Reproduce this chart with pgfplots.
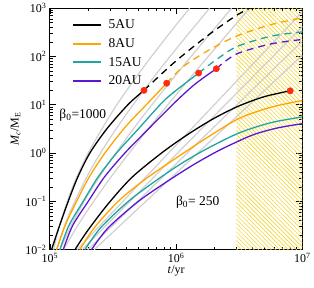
\documentclass[border=0pt]{standalone}
\usepackage{fontspec}
\setmainfont{Liberation Serif}
\usepackage{pgfplots}
\pgfplotsset{compat=1.18}
\usetikzlibrary{patterns,patterns.meta}
\definecolor{cOr}{RGB}{255,165,0}
\definecolor{cTe}{RGB}{30,165,160}
\definecolor{cPu}{RGB}{90,24,208}
\definecolor{cGr}{RGB}{208,208,208}
\definecolor{cHa}{RGB}{242,214,48}
\definecolor{cRed}{RGB}{255,42,16}
\begin{document}
\begin{tikzpicture}
\begin{axis}[
  scale only axis, width=253pt, height=242pt,
  xmode=log, ymode=log, xmin=1e5, xmax=1e7, ymin=1e-2, ymax=1e3,
  xtick={1e5,1e6,1e7},
  xticklabels={10\textsuperscript{5},10\textsuperscript{6},10\textsuperscript{7}},
  ytick={1e-2,1e-1,1,1e1,1e2,1e3},
  yticklabels={10\textsuperscript{−2},10\textsuperscript{−1},10\textsuperscript{0},10\textsuperscript{1},10\textsuperscript{2},10\textsuperscript{3}},
  minor xtick={2e5,3e5,4e5,5e5,6e5,7e5,8e5,9e5,2e6,3e6,4e6,5e6,6e6,7e6,8e6,9e6},
  minor ytick={0.02,0.03,0.04,0.05,0.06,0.07,0.08,0.09,0.2,0.3,0.4,0.5,0.6,0.7,0.8,0.9,2,3,4,5,6,7,8,9,20,30,40,50,60,70,80,90,200,300,400,500,600,700,800,900},
  tick align=inside, tick pos=both, xticklabel pos=lower, yticklabel pos=left,
  major tick length=6pt, minor tick length=3pt,
  axis line style={line width=1pt}, tick style={black, line width=0.8pt},
  tick label style={font=\fontsize{12}{13}\selectfont},
  label style={font=\fontsize{12}{13}\selectfont},
  xlabel={\textit{t}/yr}, ylabel={\textit{M}\textsubscript{\textit{c}}/M\textsubscript{E}},
  xlabel style={yshift=4pt}, ylabel style={yshift=-2pt},
  legend style={draw=none, fill=none, at={(0.083,0.966)}, anchor=north west,
    font=\fontsize{13.5}{15}\selectfont, row sep=4.4pt, inner sep=1pt},
  legend cell align=left,
  legend image code/.code={\draw[line width=2pt] (0pt,0pt) -- (28pt,0pt); \path (33pt,0pt);},
]
% hatched region
\addplot[draw=none, pattern={Lines[angle=-45, distance=3pt, line width=0.6pt]}, pattern color=cHa, forget plot]
  coordinates {(3e6,1e-2) (3e6,1e3) (1e7,1e3) (1e7,1e-2) (3e6,1e-2)};
% gray lines, beta0 = 1000
\addplot[cGr, line width=1.2pt, smooth, forget plot] coordinates {(1.07e5,0.01) (1.2e5,0.034) (1.5e5,0.19) (2e5,0.98) (3e5,6.1) (4e5,18.9) (6e5,81.3) (9e5,320) (1.28e6,1000)};
\addplot[cGr, line width=1.2pt, smooth, forget plot] coordinates {(1.13e5,0.01) (1.4e5,0.05) (2e5,0.356) (3e5,2.08) (5e5,14) (8e5,69.5) (1.2e6,259) (1.84e6,1000)};
\addplot[cGr, line width=1.2pt, smooth, forget plot] coordinates {(1.2e5,0.01) (1.5e5,0.035) (2e5,0.135) (3e5,0.69) (5e5,4.31) (8e5,20.6) (1.3e6,97) (2e6,373) (2.75e6,1000)};
\addplot[cGr, line width=1.2pt, smooth, forget plot] coordinates {(1.28e5,0.01) (1.6e5,0.027) (2e5,0.067) (3e5,0.304) (5e5,1.74) (8e5,8.0) (1.3e6,36.9) (2e6,140) (3e6,483) (3.81e6,1000)};
% gray lines, beta0 = 250
\addplot[cGr, line width=1.2pt, forget plot] coordinates {(1.641e5,0.01) (1e7,851)};
\addplot[cGr, line width=1.2pt, forget plot] coordinates {(1.799e5,0.01) (1e7,417)};
\addplot[cGr, line width=1.2pt, forget plot] coordinates {(1.995e5,0.01) (1e7,209)};
\addplot[cGr, line width=1.2pt, forget plot] coordinates {(2.239e5,0.01) (1e7,107)};
% beta0 = 1000, solid
\addplot[draw=black, line width=1.3pt, smooth] coordinates {(1.030e5,0.01) (1.175e5,0.0282) (1.396e5,0.1) (1.660e5,0.316) (2.070e5,1) (2.818e5,3.162) (4.140e5,10) (5.559e5,19.95)};
\addlegendentry{5AU}
\addplot[draw=cOr, line width=1.3pt, smooth] coordinates {(1.130e5,0.01) (1.318e5,0.0316) (1.6255e5,0.1) (2.0417e5,0.316) (2.7227e5,1) (3.981e5,3.548) (5.888e5,10.47) (8.414e5,27.99)};
\addlegendentry{8AU}
\addplot[draw=cTe, line width=1.3pt, smooth] coordinates {(1.1995e5,0.01) (1.4125e5,0.0316) (1.8323e5,0.1) (2.3988e5,0.316) (3.3651e5,1) (5.0119e5,3.162) (7.7625e5,11.22) (1e6,19.95) (1.5066e6,45.39)};
\addlegendentry{15AU}
\addplot[draw=cPu, line width=1.3pt, smooth] coordinates {(1.2735e5,0.01) (1.5136e5,0.0316) (2.0091e5,0.1) (2.6915e5,0.316) (3.9174e5,1) (6.0256e5,3.162) (9.7724e5,11.22) (1.4125e6,26.92) (2.0797e6,55.85)};
\addlegendentry{20AU}
% beta0 = 1000, dashed continuation
\addplot[black, line width=1.3pt, smooth, dash pattern=on 7pt off 5pt, forget plot] coordinates {(5.559e5,19.95) (9.7275e5,76.56) (1.782e6,272.9) (2.992e6,706.3) (3.981e6,1047)};
\addplot[cOr, line width=1.3pt, smooth, dash pattern=on 7pt off 5pt, forget plot] coordinates {(8.414e5,27.99) (1.122e6,60.26) (1.778e6,131.8) (2.992e6,263) (5.623e6,457.1) (1e7,631)};
\addplot[cTe, line width=1.3pt, smooth, dash pattern=on 7pt off 5pt, forget plot] coordinates {(1.5066e6,45.39) (1.9953e6,79.4) (2.992e6,158.5) (5.623e6,263) (1e7,323.6)};
\addplot[cPu, line width=1.3pt, smooth, dash pattern=on 7pt off 5pt, forget plot] coordinates {(2.0797e6,55.85) (2.992e6,112.2) (5.623e6,182) (1e7,225.4)};
% beta0 = 250
\addplot[black, line width=1.3pt, smooth, forget plot] coordinates {(1.5776e5,0.01) (1.9953e5,0.0251) (2.891e5,0.0891) (4.4668e5,0.316) (7.8163e5,1.047) (1.2589e6,2.512) (1.9953e6,5.248) (3.1623e6,9.55) (5.0119e6,14.79) (7.9983e6,19.5)};
\addplot[cOr, line width=1.3pt, smooth, forget plot] coordinates {(1.7258e5,0.01) (2.2387e5,0.0282) (3.4674e5,0.1) (5.6234e5,0.2818) (1e6,0.794) (1.7783e6,2.138) (3.1623e6,5.248) (5.6234e6,8.913) (1e7,12.3)};
\addplot[cTe, line width=1.3pt, smooth, forget plot] coordinates {(1.8923e5,0.01) (2.5119e5,0.0282) (4.1687e5,0.1) (7.0795e5,0.2818) (1.122e6,0.631) (1.7783e6,1.259) (3.1623e6,2.630) (5.6234e6,4.266) (1e7,5.623)};
\addplot[cPu, line width=1.3pt, smooth, forget plot] coordinates {(2.133e5,0.01) (2.884e5,0.0282) (5.0119e5,0.1) (8.9125e5,0.2818) (1.4125e6,0.6026) (2.2387e6,1.175) (3.981e6,2.344) (6.3096e6,3.311) (1e7,4.074)};
% isolation points
\addplot[only marks, mark=*, mark size=3.2pt, cRed, forget plot] coordinates {(5.559e5,19.95) (8.414e5,27.99) (1.5066e6,45.39) (2.0797e6,55.85) (7.9983e6,19.5)};
\node[font=\fontsize{13.5}{15}\selectfont] at (axis cs:1.82e5,6.15) {β\textsubscript{0}=1000};
\node[font=\fontsize{13.5}{15}\selectfont] at (axis cs:1.48e6,0.098) {β\textsubscript{0}= 250};
\end{axis}
\path[use as bounding box] (-50pt,-38pt) rectangle (264pt,248pt);
\end{tikzpicture}
\end{document}
